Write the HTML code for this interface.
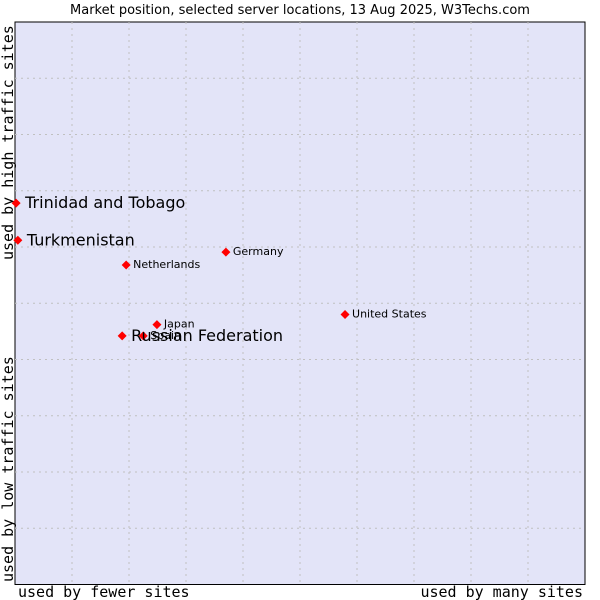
<!DOCTYPE html>
<html><head><meta charset="utf-8"><style>
body{margin:0;background:#fff;width:600px;height:600px;overflow:hidden}
svg{display:block}
</style></head><body>
<svg id="chart" width="600" height="600" xmlns="http://www.w3.org/2000/svg">
<text x="300" y="14" text-anchor="middle" font-family="DejaVu Sans, sans-serif" font-size="13" fill="#000">Market position, selected server locations, 13 Aug 2025, W3Techs.com</text>
<rect x="15" y="22" width="570" height="562.5" fill="#e3e4f8" stroke="#000" stroke-width="1"/>
<g id="grid"></g>
<text x="18" y="597" font-family="DejaVu Sans Mono, monospace" font-size="15">used by fewer sites</text>
<text x="583" y="597" text-anchor="end" font-family="DejaVu Sans Mono, monospace" font-size="15">used by many sites</text>
<text transform="translate(13,582) rotate(-90)" font-family="DejaVu Sans Mono, monospace" font-size="15">used by low traffic sites</text>
<text transform="translate(13,260) rotate(-90)" font-family="DejaVu Sans Mono, monospace" font-size="15">used by high traffic sites</text>
<g id="points"></g>
</svg>
<script>
const names = ["Trinidad and Tobago","Turkmenistan","Netherlands","Germany","United States","Japan","Spain","Russian Federation"];
const xValues = [0.02,0.05,1.95,3.7,5.79,2.49,2.25,1.88];
const yValues = [6.78,6.12,5.68,5.91,4.80,4.62,4.42,4.42];
const highlighted = [true,true,false,false,false,false,false,true];
const L=15,T=22,W=570,H=562.5;
const xs=v=>L+v*W/10, ys=v=>T+H-v*H/10;
const NS="http://www.w3.org/2000/svg";
const grid=document.getElementById('grid');
for(let i=1;i<10;i++){
  const v=document.createElementNS(NS,'line');
  v.setAttribute('x1',xs(i));v.setAttribute('x2',xs(i));v.setAttribute('y1',T);v.setAttribute('y2',T+H);
  v.setAttribute('stroke','#c0c0c0');v.setAttribute('stroke-dasharray','2,4');
  
  
  grid.appendChild(v);
  const h=document.createElementNS(NS,'line');
  h.setAttribute('y1',ys(i));h.setAttribute('y2',ys(i));h.setAttribute('x1',L);h.setAttribute('x2',L+W);
  h.setAttribute('stroke','#c0c0c0');h.setAttribute('stroke-dasharray','2,4');
  
  
  grid.appendChild(h);
}
const pts=document.getElementById('points');
names.forEach((n,i)=>{
  const x=xs(xValues[i]),y=ys(yValues[i]);
  const d=document.createElementNS(NS,'polygon');
  d.setAttribute('points',`${x},${y-4.5} ${x+4.5},${y} ${x},${y+4.5} ${x-4.5},${y}`);
  d.setAttribute('fill','#ff0000');
  
  
  pts.appendChild(d);
  const t=document.createElementNS(NS,'text');
  t.setAttribute('x',x+(highlighted[i]?9:7));
  t.setAttribute('y',y+(highlighted[i]?5:3));
  t.setAttribute('font-family','DejaVu Sans, sans-serif');
  t.setAttribute('font-size',highlighted[i]?'16':'11');
  t.textContent=n;
  
  
  pts.appendChild(t);
});
</script>
</body></html>
